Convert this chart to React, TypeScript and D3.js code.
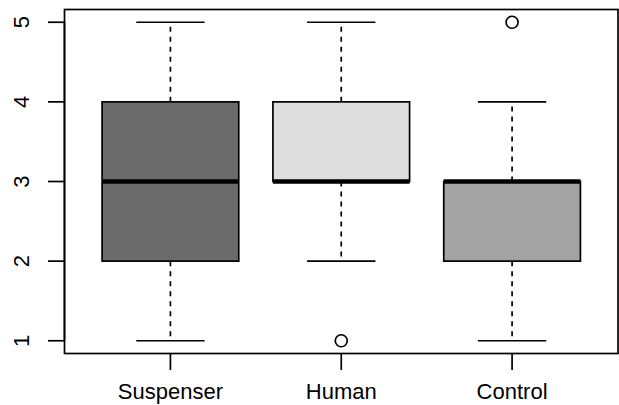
import * as d3 from "d3";

const categories = ["Suspenser", "Human", "Control"];
const whiskerLow = [1, 2, 1];
const lowerQuartile = [2, 3, 2];
const medians = [3, 3, 3];
const upperQuartile = [4, 4, 3];
const whiskerHigh = [5, 5, 4];
const outliers = [[], [1], [5]];
const boxColors = ["#6b6b6b", "#dedede", "#a3a3a3"];
const yTicks = [1, 2, 3, 4, 5];

const width = 619;
const height = 405;
const font = "'Liberation Sans', Arial, sans-serif";

export default function App() {
  const x = d3.scaleLinear().domain([0.38, 3.62]).range([64.5, 618]);
  const y = d3.scaleLinear().domain([0.84, 5.16]).range([353.5, 9.5]);
  const boxHalf = x(0.4) - x(0);
  const stapleHalf = x(0.2) - x(0);

  return (
    <svg
      width={width}
      height={height}
      style={{ position: "absolute", left: 0, top: 0, background: "#fff" }}
    >
      {categories.map((name, i) => {
        const cx = x(i + 1);
        return (
          <g key={name}>
            {/* whiskers */}
            <line x1={cx} x2={cx} y1={y(upperQuartile[i])} y2={y(whiskerHigh[i])} stroke="#000" strokeWidth={1.7} strokeDasharray="5,5" />
            <line x1={cx} x2={cx} y1={y(lowerQuartile[i])} y2={y(whiskerLow[i])} stroke="#000" strokeWidth={1.7} strokeDasharray="5,5" />
            <line x1={cx - stapleHalf} x2={cx + stapleHalf} y1={y(whiskerHigh[i])} y2={y(whiskerHigh[i])} stroke="#000" strokeWidth={1.7} />
            <line x1={cx - stapleHalf} x2={cx + stapleHalf} y1={y(whiskerLow[i])} y2={y(whiskerLow[i])} stroke="#000" strokeWidth={1.7} />
            {/* box */}
            <rect
              x={cx - boxHalf}
              y={y(upperQuartile[i])}
              width={boxHalf * 2}
              height={y(lowerQuartile[i]) - y(upperQuartile[i])}
              fill={boxColors[i]}
              stroke="#000"
              strokeWidth={1.7}
            />
            <line x1={cx - boxHalf} x2={cx + boxHalf} y1={y(medians[i])} y2={y(medians[i])} stroke="#000" strokeWidth={4.5} />
            {outliers[i].map((v, j) => (
              <circle key={j} cx={cx} cy={y(v)} r={6} fill="none" stroke="#000" strokeWidth={1.7} />
            ))}
          </g>
        );
      })}

      {/* plot frame */}
      <rect x={64.5} y={9.5} width={553.5} height={344} fill="none" stroke="#000" strokeWidth={1.7} />

      {/* y axis */}
      <line x1={64.5} x2={64.5} y1={y(1)} y2={y(5)} stroke="#000" strokeWidth={1.7} />
      {yTicks.map((t) => (
        <g key={t}>
          <line x1={48} x2={64.5} y1={y(t)} y2={y(t)} stroke="#000" strokeWidth={1.7} />
          <text
            transform={`translate(28.5,${y(t)}) rotate(-90)`}
            textAnchor="middle"
            fontFamily={font}
            fontSize={22}
            fill="#000"
          >
            {t}
          </text>
        </g>
      ))}

      {/* x axis */}
      {categories.map((name, i) => (
        <g key={name}>
          <line x1={x(i + 1)} x2={x(i + 1)} y1={353.5} y2={370} stroke="#000" strokeWidth={1.7} />
          <text x={x(i + 1)} y={399} textAnchor="middle" fontFamily={font} fontSize={22} fill="#000">
            {name}
          </text>
        </g>
      ))}
    </svg>
  );
}
